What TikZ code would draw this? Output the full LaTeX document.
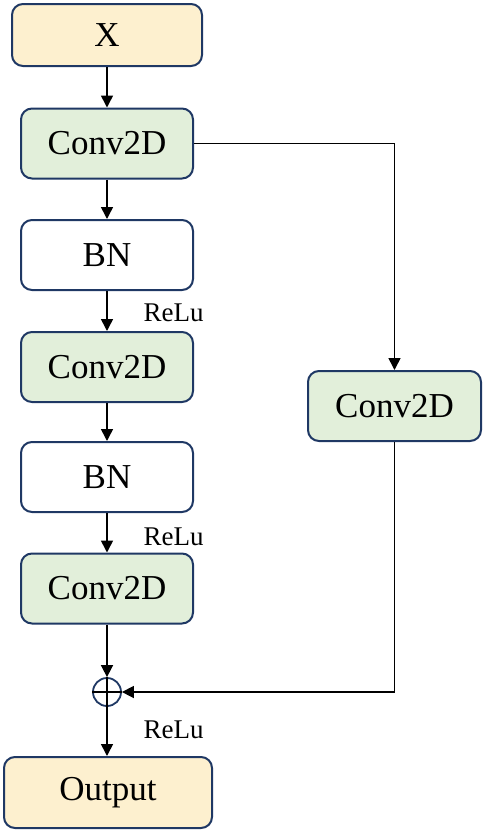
\documentclass[tikz,border=0pt]{standalone}
\usepackage{fontspec}
\setmainfont{Liberation Serif}
\usetikzlibrary{arrows.meta}
\definecolor{boxline}{HTML}{1F3864}
\definecolor{inyellow}{HTML}{FDF0CF}
\definecolor{convgreen}{HTML}{E2EFDA}
\tikzset{
  blk/.style={draw=boxline, line width=2pt, rounded corners=11pt, minimum width=172pt, minimum height=70pt, inner sep=0pt, font=\fontsize{35}{40}\selectfont},
  conv/.style={blk, fill=convgreen},
  bnbox/.style={blk, fill=white},
  io/.style={blk, fill=inyellow},
  flow/.style={-{Triangle[length=12pt,width=12pt]}, line width=1.6pt},
  act/.style={anchor=west, font=\fontsize{27}{30}\selectfont},
}
\begin{document}
\begin{tikzpicture}[x=1pt,y=-1pt]
    \useasboundingbox (0,0) rectangle (484,831);
    % main branch
    \node[io, minimum width=190pt, minimum height=62pt] (inp) at (107,35) {X};
    \node[conv] (conva) at (107,143.5) {Conv2D};
    \node[bnbox] (bna) at (107,255) {BN};
    \node[conv] (convb) at (107,367) {Conv2D};
    \node[bnbox] (bnb) at (107,477) {BN};
    \node[conv] (convc) at (107,588.5) {Conv2D};
    \node[draw=boxline, line width=1.8pt, circle, minimum size=28pt, inner sep=0pt] (add) at (107,692) {};
    \draw[line width=1.3pt] (add.north) -- (add.south) (add.west) -- (add.east);
    \node[io, minimum width=208pt, minimum height=71pt] (out) at (108,792.5) {Output};
    % shortcut
    \node[conv, minimum width=173pt] (convs) at (394.5,406) {Conv2D};
    \coordinate (turna) at (convs.north |- conva.east);
    \coordinate (turnb) at (convs.south |- add.east);

    \draw[flow] (inp) -- (conva);
    \draw[flow] (conva) -- (bna);
    \draw[flow] (bna) -- (convb);
    \draw[flow] (convb) -- (bnb);
    \draw[flow] (bnb) -- (convc);
    \draw[flow] (convc) -- (add);
    \draw[flow] (add.south) -- (add.south |- out.north);
    \draw[flow] (conva.east) -- (turna) -- (convs.north);
    \draw[flow] (convs.south) -- (turnb) -- (add.east);

    \node[act] (reluA) at (140,313) {ReLu};
    \node[act] (reluB) at (140,537) {ReLu};
    \node[act] (reluC) at (140,730) {ReLu};
\end{tikzpicture}
\end{document}
